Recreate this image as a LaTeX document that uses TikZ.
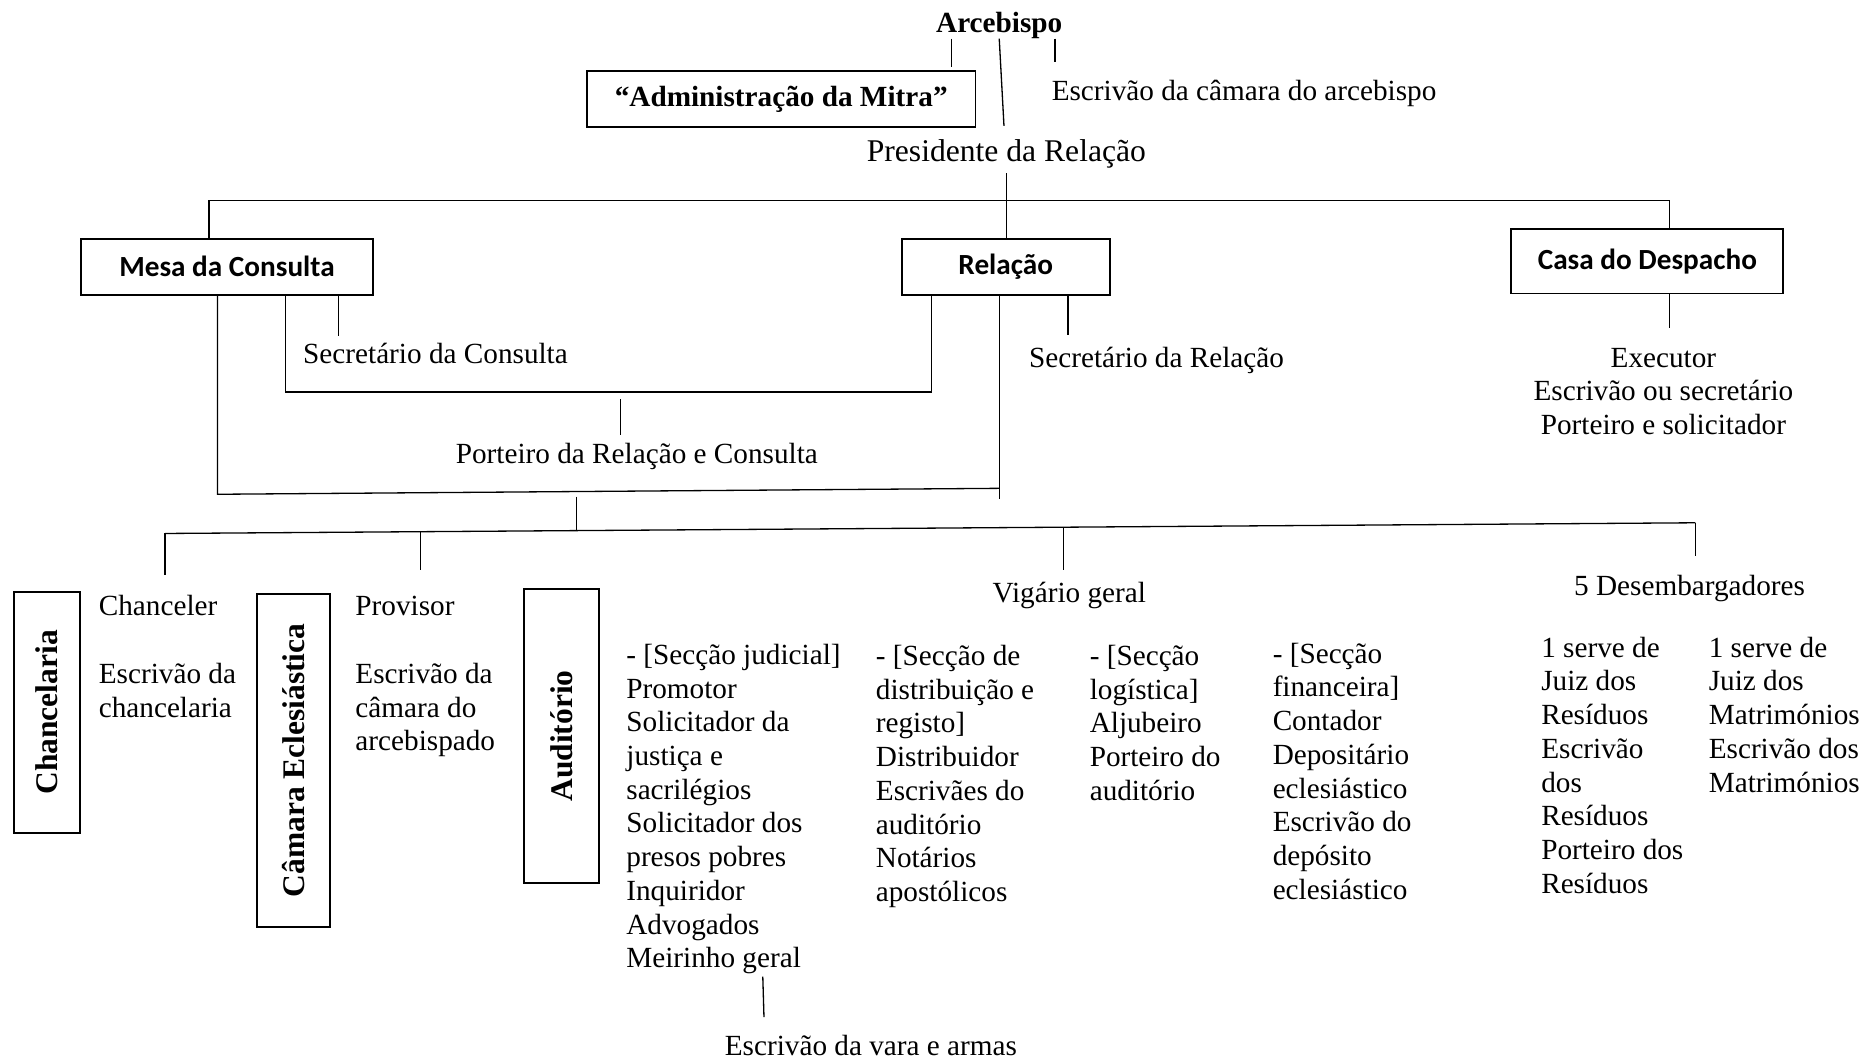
\documentclass[tikz,border=0pt]{standalone}
\usepackage{fontspec}
\setmainfont{Liberation Serif}
\newfontfamily\carl{Carlito}
\newcommand\fs{\fontsize{24.6}{28.4}\selectfont}
\newcommand\fsb{\fontsize{26.5}{30}\selectfont\bfseries}
\begin{document}
\begin{tikzpicture}[x=1pt,y=-1pt,
  lbl/.style={inner sep=0pt, font=\fs},
  blk/.style={inner sep=0pt, font=\fs, anchor=north west, align=left},
  box/.style={draw, line width=1.6pt, inner sep=0pt},
  sbox/.style={box, font=\fs\carl\bfseries},
  vbox/.style={box, rotate=90, font=\fsb},
  ln/.style={line width=1.1pt}]
\useasboundingbox (0,0) rectangle (1568,891);
% top
\node[lbl, anchor=base, font=\fs\bfseries] (arc) at (841,27) {Arcebispo};
\node[box, minimum width=327pt, minimum height=47pt, font=\fs\bfseries] (mitra) at (657.5,83.5) {“Administração da Mitra”};
\node[lbl, anchor=base west] (escarc) at (885,85) {Escrivão da câmara do arcebispo};
\node[lbl, anchor=base, font=\fontsize{26.6}{30}\selectfont] (pres) at (847,136) {Presidente da Relação};
\coordinate (a1) at (801,56);
\coordinate (a2) at (845,106);
\coordinate (a3) at (888,52);
\draw[ln] (a1 |- arc.south) -- (a1);
\draw[ln] (arc.south) -- (a2);
\draw[ln] (a3 |- arc.south) -- (a3);
% level 2
\node[sbox, minimum width=246pt, minimum height=47pt] (mesa) at (191,224.5) {Mesa da Consulta};
\node[sbox, minimum width=175pt, minimum height=47pt] (rel) at (846.5,224.5) {Relação};
\node[sbox, minimum width=229pt, minimum height=54pt] (casa) at (1386.5,220) {Casa do Despacho};
\coordinate (hL) at (176,169);
\coordinate (hR) at (1405,169);
\draw[ln] (hL |- mesa.north) -- (hL) -- (hR) -- (hR |- casa.north);
\coordinate (p1) at (847,146);
\draw[ln] (p1) -- (p1 |- rel.north);
% secretaries
\node[lbl, anchor=base west] (secc) at (255,306) {Secretário da Consulta};
\coordinate (s1) at (285,283);
\draw[ln] (s1 |- mesa.south) -- (s1);
\node[lbl, anchor=base west] (secr) at (866,309) {Secretário da Relação};
\coordinate (s2) at (899,282);
\draw[ln] (s2 |- rel.south) -- (s2);
\node[blk, anchor=north, align=center] (casaitems) at (1400,289) {\strut Executor\\Escrivão ou secretário\\Porteiro e solicitador};
\coordinate (s3) at (1405,276);
\draw[ln] (s3 |- casa.south) -- (s3);
% inner bracket
\coordinate (ib1) at (240,330);
\coordinate (ib2) at (784,330);
\draw[ln] (ib1 |- mesa.south) -- (ib1) -- (ib2) -- (ib2 |- rel.south);
\node[lbl, anchor=base] (port) at (536,390) {Porteiro da Relação e Consulta};
\coordinate (pt1) at (522,336);
\coordinate (pt2) at (522,366);
\draw[ln] (pt1) -- (pt2);
% outer bracket
\coordinate (ob1) at (183,416);
\coordinate (ob2) at (841,411);
\coordinate (ob3) at (841,420);
\draw[ln] (ob1 |- mesa.south) -- (ob1) -- (ob2);
\draw[ln] (ob3 |- rel.south) -- (ob3);
\coordinate (st1) at (485,418);
\coordinate (st2) at (485,446);
\draw[ln] (st1) -- (st2);
% lower line
\coordinate (lL) at (139,449);
\coordinate (lR) at (1427,440);
\draw[ln] (lL) -- (lR);
\coordinate (b1) at (139,484);
\coordinate (b2t) at (354,447);
\coordinate (b2) at (354,480);
\coordinate (b3t) at (895,444);
\coordinate (b3) at (895,480);
\coordinate (b4) at (1427,468);
\draw[ln] (lL) -- (b1);
\draw[ln] (b2t) -- (b2);
\draw[ln] (b3t) -- (b3);
\draw[ln] (lR) -- (b4);
% vertical boxes
\node[vbox, minimum width=203pt, minimum height=55pt] (chanc) at (39.5,599.5) {Chancelaria};
\node[vbox, minimum width=280pt, minimum height=62pt] (camara) at (247,640) {Câmara Eclesiástica};
\node[vbox, minimum width=247pt, minimum height=63pt] (audit) at (472.5,619.5) {Auditório};
% texts
\node[blk] (chan1) at (83,498) {\strut Chanceler};
\node[blk] (chan2) at (83,555) {\strut Escrivão da\\chancelaria};
\node[blk] (prov1) at (299,498) {\strut Provisor};
\node[blk] (prov2) at (299,555) {\strut Escrivão da\\câmara do\\arcebispado};
\node[lbl, anchor=base] (vig) at (900,507) {Vigário geral};
\node[blk] (jud) at (527,539) {\strut - [Secção judicial]\\Promotor\\Solicitador da\\justiça e\\sacrilégios\\Solicitador dos\\presos pobres\\Inquiridor\\Advogados\\Meirinho geral};
\node[blk] (dis) at (737,540) {\strut - [Secção de\\distribuição e\\registo]\\Distribuidor\\Escrivães do\\auditório\\Notários\\apostólicos};
\node[blk] (log) at (917,540) {\strut - [Secção\\logística]\\Aljubeiro\\Porteiro do\\auditório};
\node[blk] (fin) at (1071,538) {\strut - [Secção\\financeira]\\Contador\\Depositário\\eclesiástico\\Escrivão do\\depósito\\eclesiástico};
\node[lbl, anchor=base] (des) at (1422,501) {5 Desembargadores};
\node[blk] (res) at (1297,533) {\strut 1 serve de\\Juiz dos\\Resíduos\\Escrivão\\dos\\Resíduos\\Porteiro dos\\Resíduos};
\node[blk] (mat) at (1438,533) {\strut 1 serve de\\Juiz dos\\Matrimónios\\Escrivão dos\\Matrimónios};
\coordinate (m1) at (642,822);
\coordinate (m2) at (643,856);
\draw[ln] (m1) -- (m2);
\node[lbl, anchor=base] (vara) at (733,888) {Escrivão da vara e armas};
\end{tikzpicture}
\end{document}
